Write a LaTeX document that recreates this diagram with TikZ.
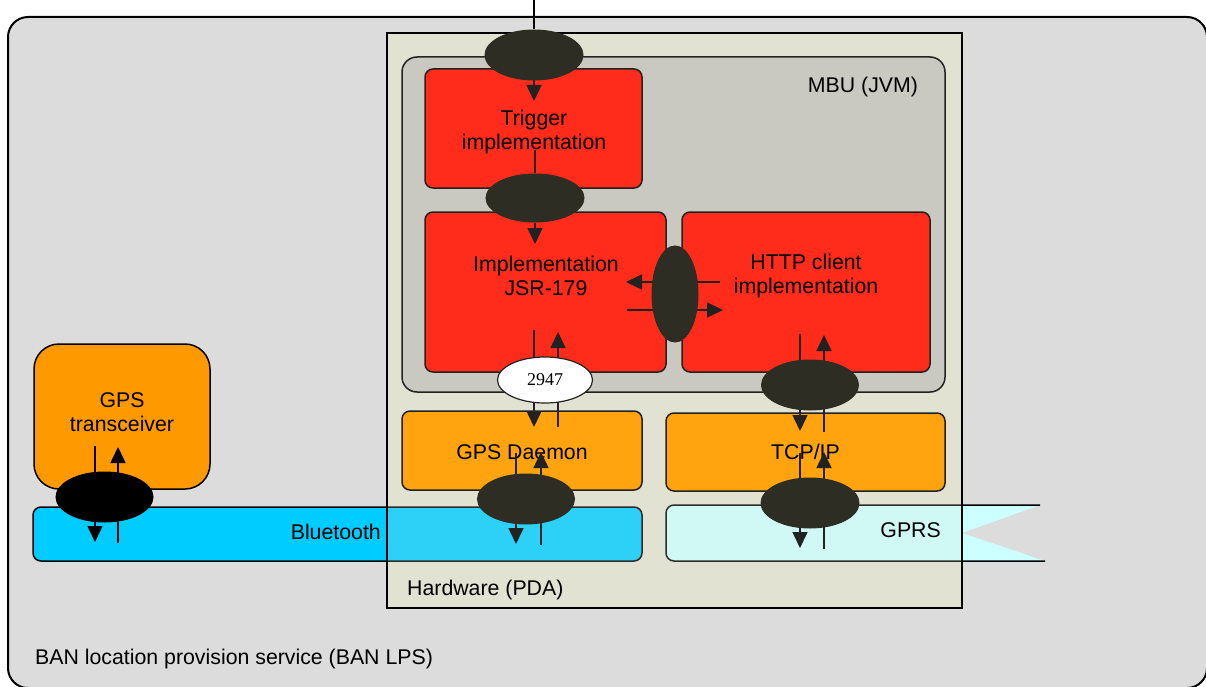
\documentclass[tikz,border=0pt]{standalone}
\usepackage{fontspec}
\setmainfont{Liberation Sans}
\newfontfamily\serifnum{Liberation Serif}
\usetikzlibrary{arrows.meta,shapes.geometric}
\definecolor{outergrey}{HTML}{DCDCDC}
\definecolor{hwcol}{HTML}{E2E2D3}
\definecolor{mbucol}{HTML}{C9C9C1}
\definecolor{redcol}{HTML}{FF2B1B}
\definecolor{orangecol}{HTML}{FFA30F}
\definecolor{gpsorange}{HTML}{FF9900}
\definecolor{btcol}{HTML}{00CCFF}
\definecolor{gprscol}{HTML}{CCFFFF}
\definecolor{darkell}{HTML}{2D2D24}
\definecolor{edgecol}{HTML}{222222}
\tikzset{
  box/.style={draw=edgecol, line width=1.5pt, rounded corners=8pt, inner sep=0pt},
  redbox/.style={box, fill=redcol},
  orbox/.style={box, fill=orangecol},
  lbl/.style={font=\fontsize{21.3}{24.5}\selectfont, align=center, inner sep=0pt, text=black},
  ell/.style={ellipse, fill=darkell, draw=darkell, line width=1pt, inner sep=0pt},
  conn/.style={line width=1.5pt, draw=edgecol},
  arr/.style={conn, -{Triangle[width=15pt,length=16pt]}},
}
\begin{document}
\begin{tikzpicture}[x=1pt,y=-1pt]
\useasboundingbox (0,0) rectangle (1206,687);
\clip (0,0) rectangle (1206,687);
% outer service box
\node[draw=black, line width=2pt, fill=outergrey, rounded corners=20pt, minimum width=1199pt, minimum height=671pt, inner sep=0pt] (outer) at (607.5,352.5) {};
% hardware fill
\node[fill=hwcol, minimum width=575pt, minimum height=575pt, inner sep=0pt] (hwfill) at (674.5,320.5) {};
% Bluetooth band
\node[box, draw=black, fill=btcol, minimum width=609pt, minimum height=54pt] (bt) at (337.5,534) {};
% GPRS ribbon
\fill[gprscol, rounded corners=8pt] (666,505) rectangle (962,561);
\fill[gprscol] (950,505) -- (1040,505) -- (962,533) -- (1045,561) -- (950,561) -- cycle;
\draw[black, line width=1.5pt, rounded corners=8pt] (1040,505) -- (666,505) -- (666,561) -- (1045,561);
% hardware tint and border
\fill[hwcol, opacity=0.2] (387,33) rectangle (962,608);
\node[draw=black, line width=2pt, minimum width=575pt, minimum height=575pt, inner sep=0pt] (hw) at (674.5,320.5) {};
% labels on the bands and boxes
\node[lbl, anchor=west] (bantext) at (35,659) {BAN location provision service (BAN LPS)};
\node[lbl, anchor=east] (bttext) at (381,532) {Bluetooth};
\node[lbl, anchor=east] (gprstext) at (941,530) {GPRS};
\node[lbl, anchor=west] (hwtext) at (407,590) {Hardware (PDA)};
% MBU
\node[box, fill=mbucol, rounded corners=15pt, minimum width=543pt, minimum height=335pt] (mbu) at (673.5,224.5) {};
\node[lbl] (mbutext) at (863,87) {MBU (JVM)};
% red boxes
\node[redbox, minimum width=217pt, minimum height=119pt] (trig) at (533.5,128.5) {};
\node[lbl] (trigtext) at (534,132) {Trigger\\implementation};
\node[redbox, minimum width=241pt, minimum height=160pt] (jsr) at (545.5,292) {};
\node[lbl] (jsrtext) at (546,276) {Implementation\\JSR-179};
\node[redbox, minimum width=248pt, minimum height=160pt] (http) at (806,292) {};
\node[lbl] (httptext) at (806,276) {HTTP client\\implementation};
% orange boxes
\node[orbox, minimum width=240pt, minimum height=79pt] (gpsd) at (522,450.5) {};
\node[lbl] (gpsdtext) at (522,452) {GPS Daemon};
\node[orbox, minimum width=279pt, minimum height=78pt] (tcp) at (805.5,452) {};
\node[lbl] (tcptext) at (805.5,452) {TCP/IP};
% GPS transceiver
\node[box, draw=black, fill=gpsorange, rounded corners=25pt, minimum width=176pt, minimum height=145pt] (gpst) at (122,416.5) {};
\node[lbl] (gpsttext) at (122,412) {GPS\\transceiver};
% connector coordinates
\coordinate (topin) at (534,0);
\coordinate (a1t) at (534,101);
\coordinate (t2s) at (535,150);
\coordinate (a2t) at (535,244);
\coordinate (l1s) at (720,282);
\coordinate (l1t) at (626,282);
\coordinate (r1s) at (627,310);
\coordinate (r1t) at (723,310);
\coordinate (jd1s) at (534,330);
\coordinate (jd1t) at (534,427);
\coordinate (ju1s) at (558,427);
\coordinate (ju1t) at (558,332);
\coordinate (hd1s) at (800,334);
\coordinate (hd1t) at (800,431);
\coordinate (hu1s) at (824,432);
\coordinate (hu1t) at (824,335);
\coordinate (gd1s) at (516,453);
\coordinate (gd1t) at (516,544);
\coordinate (gu1s) at (541,545);
\coordinate (gu1t) at (541,452);
\coordinate (td1s) at (800,453);
\coordinate (td1t) at (800,548);
\coordinate (tu1s) at (824,549);
\coordinate (tu1t) at (824,452);
\coordinate (xd1s) at (95,446);
\coordinate (xd1t) at (95,542);
\coordinate (xu1s) at (118,543);
\coordinate (xu1t) at (118,447);
% arrows (drawn below the ellipses)
\draw[arr] (l1s) -- (l1t);
\draw[arr] (r1s) -- (r1t);
\draw[arr] (jd1s) -- (jd1t);
\draw[arr] (ju1s) -- (ju1t);
\draw[arr] (hd1s) -- (hd1t);
\draw[arr] (hu1s) -- (hu1t);
\draw[arr] (gd1s) -- (gd1t);
\draw[arr] (gu1s) -- (gu1t);
\draw[arr] (td1s) -- (td1t);
\draw[arr] (tu1s) -- (tu1t);
\draw[arr, draw=black] (xd1s) -- (xd1t);
\draw[arr, draw=black] (xu1s) -- (xu1t);
% ellipses
\node[ell, minimum width=98pt, minimum height=50pt] (e1) at (534,55) {};
\node[ell, minimum width=98pt, minimum height=48pt] (e2) at (535,198) {};
\node[ell, minimum width=46pt, minimum height=96pt] (e3) at (675,294) {};
\node[ellipse, draw=edgecol, line width=1.2pt, fill=white, inner sep=0pt, minimum width=95pt, minimum height=46pt, font=\serifnum\fontsize{18}{20}\selectfont] (e4) at (545,380) {2947};
\node[ell, minimum width=97pt, minimum height=50pt] (e5) at (810,385) {};
\node[ell, minimum width=97pt, minimum height=50pt] (e6) at (526,499) {};
\node[ell, minimum width=98pt, minimum height=50pt] (e7) at (810,503) {};
\node[ell, fill=black, draw=black, minimum width=97pt, minimum height=50pt] (e8) at (104.5,497) {};
% connectors at the ellipses
\draw[line width=2pt, black] (topin) -- (e1.north);
\draw[arr] (e1.south) -- (a1t);
\draw[conn] (t2s) -- (e2.north);
\draw[arr] (e2.south) -- (a2t);
\end{tikzpicture}
\end{document}
